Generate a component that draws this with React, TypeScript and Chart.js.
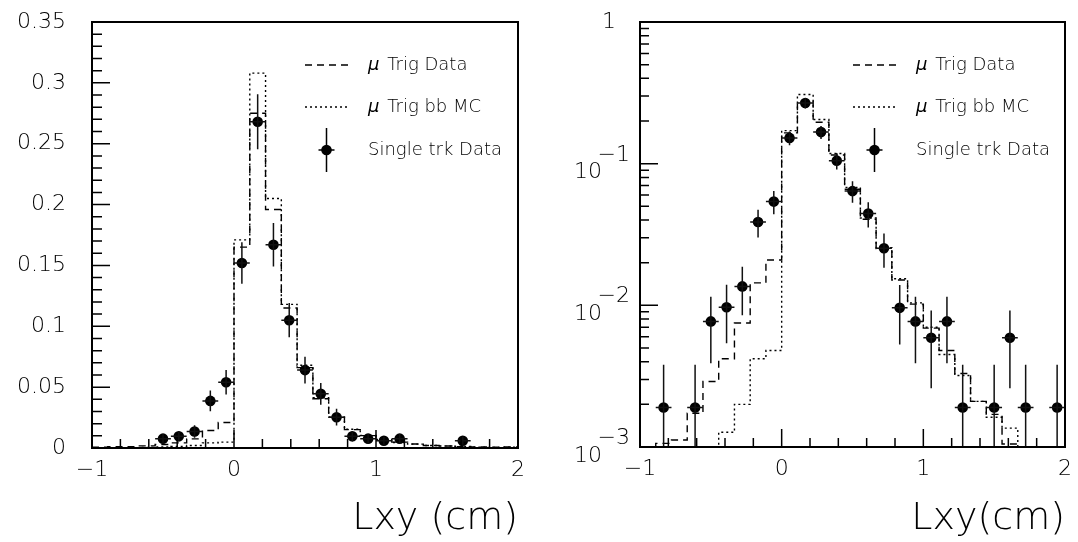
import React, { useEffect, useRef } from 'react';
import { Chart, registerables } from 'chart.js';

Chart.register(...registerables);

// ---------- data (27 bins of 1/9 cm from -1 to 2 cm) ----------
const BIN_LOW = -1;
const BIN_COUNT = 27;
const BIN_WIDTH = 3 / 27;

// mu Trig Data (dashed histogram), normalised contents
const muTrigData = [
  0.0007, 0.00106, 0.00112, 0.00173, 0.0029, 0.0042, 0.0075, 0.0144, 0.0209,
  0.165, 0.275, 0.196, 0.115, 0.066, 0.0405, 0.0252, 0.0151, 0.0102,
  0.0069, 0.0048, 0.0033, 0.0021, 0.0017, 0.00105, 0.0008, 0.0006, 0.0008,
];

// mu Trig bb MC (dotted histogram)
const muTrigMC = [
  0.0002, 0.0003, 0.0003, 0.0005, 0.0008, 0.00127, 0.002, 0.0042, 0.0048,
  0.171, 0.308, 0.205, 0.118, 0.068, 0.0413, 0.0255, 0.0154, 0.0104,
  0.007, 0.0045, 0.0032, 0.0021, 0.00162, 0.00136, 0.0007, 0.0005, 0.0006,
];

// Single trk Data points (log panel shows all, linear panel omits the single-entry bins)
const singleTrkLog = [
  null, 0.0019, null, 0.0019, 0.0077, 0.0097, 0.0136, 0.0387, 0.054,
  0.152, 0.268, 0.167, 0.105, 0.064, 0.0445, 0.0253, 0.0096, 0.0077,
  0.0059, 0.0077, 0.0019, null, 0.0019, 0.0059, 0.0019, null, 0.0019,
];
const singleTrkLin = [
  null, null, null, null, 0.0077, 0.0097, 0.0136, 0.0387, 0.054,
  0.152, 0.268, 0.167, 0.105, 0.064, 0.0445, 0.0253, 0.0096, 0.0077,
  0.0059, 0.0077, null, null, null, 0.0059, null, null, null,
];
const singleTrkErr = [
  0, 0.0019, 0, 0.0019, 0.0038, 0.0043, 0.0051, 0.0086, 0.0101,
  0.017, 0.0226, 0.0178, 0.0141, 0.011, 0.009, 0.0069, 0.0043, 0.0038,
  0.0033, 0.0038, 0.0019, 0, 0.0019, 0.0033, 0.0019, 0, 0.0019,
];

// axis ticks / labels
const xTickValues = [-1, 0, 1, 2];
const xTickLabels = ['\u22121', '0', '1', '2'];
const xMinorTicks = [-0.8, -0.6, -0.4, -0.2, 0.2, 0.4, 0.6, 0.8, 1.2, 1.4, 1.6, 1.8];
const yLinTickValues = [0, 0.05, 0.1, 0.15, 0.2, 0.25, 0.3, 0.35];
const yLinTickLabels = ['0', '0.05', '0.1', '0.15', '0.2', '0.25', '0.3', '0.35'];
const yLogTickValues = [0.001, 0.01, 0.1, 1];
const yLogTickLabels: (string | string[])[] = [
  ['\u22123', '10    '],
  ['\u22122', '10    '],
  ['\u22121', '10    '],
  '1  ',
];
const legendLabels = ['Trig Data', 'Trig bb MC', 'Single trk Data'];

const FONT = "'DejaVu Sans'";
const FW = 200;
const W = 539;
const H = 542;

type Kind = 'lin' | 'log';

function histPoints(values: number[]) {
  const pts = values.map((v, i) => ({ x: BIN_LOW + i * BIN_WIDTH, y: v }));
  pts.push({ x: BIN_LOW + BIN_COUNT * BIN_WIDTH, y: values[values.length - 1] });
  return pts;
}

function trkPoints(values: (number | null)[]) {
  const pts: { x: number; y: number; e: number }[] = [];
  values.forEach((v, i) => {
    if (v !== null) pts.push({ x: BIN_LOW + (i + 0.5) * BIN_WIDTH, y: v, e: singleTrkErr[i] });
  });
  return pts;
}

function decorPlugin(kind: Kind) {
  return {
    id: 'decor' + kind,
    afterDatasetsDraw(chart: any) {
      const { ctx, chartArea: a, scales } = chart;
      const xs = scales.x;
      const ys = scales.y;
      ctx.save();
      // error bars
      const pts = chart.data.datasets[2].data as any[];
      ctx.strokeStyle = '#111';
      ctx.lineWidth = 1.5;
      ctx.beginPath();
      ctx.rect(a.left, a.top, a.right - a.left, a.bottom - a.top);
      ctx.clip();
      pts.forEach((p) => {
        const cx = xs.getPixelForValue(p.x);
        const cy = ys.getPixelForValue(p.y);
        const top = ys.getPixelForValue(p.y + p.e);
        const lowVal = p.y - p.e;
        const bot = lowVal > 0 ? ys.getPixelForValue(lowVal) : a.bottom;
        ctx.beginPath();
        ctx.moveTo(cx, top);
        ctx.lineTo(cx, Math.min(bot, a.bottom));
        ctx.moveTo(xs.getPixelForValue(p.x - BIN_WIDTH / 2), cy);
        ctx.lineTo(xs.getPixelForValue(p.x + BIN_WIDTH / 2), cy);
        ctx.stroke();
      });
      ctx.restore();

      ctx.save();
      // frame
      ctx.strokeStyle = '#000';
      ctx.lineWidth = 2;
      ctx.strokeRect(a.left, a.top, a.right - a.left, a.bottom - a.top);
      // x ticks
      ctx.lineWidth = 1.5;
      ctx.beginPath();
      xTickValues.forEach((v) => {
        const px = xs.getPixelForValue(v);
        ctx.moveTo(px, a.bottom);
        ctx.lineTo(px, a.bottom - 18);
      });
      xMinorTicks.forEach((v) => {
        const px = xs.getPixelForValue(v);
        ctx.moveTo(px, a.bottom);
        ctx.lineTo(px, a.bottom - 9);
      });
      // y ticks
      if (kind === 'lin') {
        for (let k = 1; k < 35; k++) {
          const py = ys.getPixelForValue(k / 100);
          const len = k % 5 === 0 ? 18 : 10;
          ctx.moveTo(a.left, py);
          ctx.lineTo(a.left + len, py);
        }
      } else {
        yLogTickValues.forEach((dec) => {
          for (let m = 1; m <= 9; m++) {
            const v = dec * m;
            if (v > 1.0001) continue;
            const py = ys.getPixelForValue(v);
            const len = m === 1 ? 18 : 9;
            ctx.moveTo(a.left, py);
            ctx.lineTo(a.left + len, py);
          }
        });
      }
      ctx.stroke();

      // legend
      const sx0 = a.left + 213;
      const sx1 = a.left + 256;
      const tx = a.left + 276;
      const rows = [a.top + 43, a.top + 85, a.top + 128];
      ctx.lineWidth = 1.3;
      ctx.setLineDash([7, 5]);
      ctx.beginPath();
      ctx.moveTo(sx0, rows[0]);
      ctx.lineTo(sx1, rows[0]);
      ctx.stroke();
      ctx.setLineDash([2, 3]);
      ctx.beginPath();
      ctx.moveTo(sx0, rows[1]);
      ctx.lineTo(sx1, rows[1]);
      ctx.stroke();
      ctx.setLineDash([]);
      const mx = (sx0 + sx1) / 2;
      ctx.lineWidth = 1.5;
      ctx.beginPath();
      ctx.moveTo(mx, rows[2] - 22);
      ctx.lineTo(mx, rows[2] + 22);
      ctx.moveTo(mx - 8, rows[2]);
      ctx.lineTo(mx + 8, rows[2]);
      ctx.stroke();
      ctx.fillStyle = '#000';
      ctx.beginPath();
      ctx.arc(mx, rows[2], 5.3, 0, Math.PI * 2);
      ctx.fill();

      ctx.textBaseline = 'middle';
      ctx.textAlign = 'left';
      const fsz = 18;
      for (let r = 0; r < 3; r++) {
        let x = tx;
        if (r < 2) {
          ctx.font = `italic ${FW} ${fsz}px ${FONT}`;
          ctx.fillText('\u03bc', x, rows[r]);
          x += ctx.measureText('\u03bc ').width + 2;
        }
        ctx.font = `${FW} ${fsz}px ${FONT}`;
        ctx.fillText(legendLabels[r], x, rows[r]);
      }
      ctx.restore();
    },
  };
}

function buildConfig(kind: Kind): any {
  const isLog = kind === 'log';
  const tickFont = { family: FONT, size: 22, weight: FW as any };
  return {
    type: 'line',
    data: {
      datasets: [
        {
          label: '\u03bc Trig Data',
          data: histPoints(muTrigData),
          borderColor: '#000',
          borderWidth: 1.4,
          borderDash: [7, 5],
          stepped: 'before',
          pointRadius: 0,
          fill: false,
        },
        {
          label: '\u03bc Trig bb MC',
          data: histPoints(muTrigMC),
          borderColor: '#000',
          borderWidth: 1.4,
          borderDash: [2, 3],
          stepped: 'before',
          pointRadius: 0,
          fill: false,
        },
        {
          type: 'scatter',
          label: 'Single trk Data',
          data: trkPoints(isLog ? singleTrkLog : singleTrkLin),
          pointRadius: 5.3,
          pointBackgroundColor: '#000',
          pointBorderWidth: 0,
          showLine: false,
        },
      ],
    },
    options: {
      responsive: false,
      animation: false,
      devicePixelRatio: 1,
      layout: {
        padding: isLog
          ? { left: 0, top: 22, right: 13, bottom: 0 }
          : { left: 0, top: 22, right: 21, bottom: 0 },
      },
      plugins: { legend: { display: false }, tooltip: { enabled: false } },
      scales: {
        x: {
          type: 'linear',
          min: -1,
          max: 2,
          afterBuildTicks: (s: any) => {
            s.ticks = xTickValues.map((v) => ({ value: v }));
          },
          ticks: {
            autoSkip: false,
            maxRotation: 0,
            padding: 1,
            color: '#000',
            font: tickFont,
            callback: (_v: any, i: number) => xTickLabels[i],
          },
          grid: { display: false },
          border: { display: false },
          title: {
            display: true,
            text: isLog ? 'Lxy(cm)' : 'Lxy (cm)',
            align: 'end',
            color: '#000',
            font: { family: FONT, size: 38, weight: FW as any },
            padding: { top: 0, bottom: 0 },
          },
          afterFit: (s: any) => {
            s.height = isLog ? 95 : 94;
            s.paddingLeft = 0;
            s.paddingRight = 0;
          },
        },
        y: isLog
          ? {
              type: 'logarithmic',
              min: 0.001,
              max: 1,
              afterBuildTicks: (s: any) => {
                s.ticks = yLogTickValues.map((v) => ({ value: v }));
              },
              ticks: {
                autoSkip: false,
                padding: 2,
                color: '#000',
                font: { ...tickFont, lineHeight: 0.8 },
                callback: (_v: any, i: number) => yLogTickLabels[i],
              },
              grid: { display: false },
              border: { display: false },
              afterFit: (s: any) => {
                s.width = 101;
                s.paddingTop = 0;
                s.paddingBottom = 0;
              },
            }
          : {
              type: 'linear',
              min: 0,
              max: 0.35,
              afterBuildTicks: (s: any) => {
                s.ticks = yLinTickValues.map((v) => ({ value: v }));
              },
              ticks: {
                autoSkip: false,
                padding: 18,
                color: '#000',
                font: tickFont,
                callback: (_v: any, i: number) => yLinTickLabels[i],
              },
              grid: { display: false },
              border: { display: false },
              afterFit: (s: any) => {
                s.width = 92;
                s.paddingTop = 0;
                s.paddingBottom = 0;
              },
            },
      },
    },
    plugins: [decorPlugin(kind)],
  };
}

function Panel({ kind, left }: { kind: Kind; left: number }) {
  const ref = useRef<HTMLCanvasElement>(null);
  useEffect(() => {
    if (!ref.current) return;
    const chart = new Chart(ref.current, buildConfig(kind));
    return () => chart.destroy();
  }, [kind]);
  return (
    <canvas
      ref={ref}
      width={W}
      height={H}
      style={{ position: 'absolute', left, top: 0, width: W, height: H }}
    />
  );
}

export default function App() {
  return (
    <div style={{ position: 'absolute', left: 0, top: 0, width: 1078, height: 542, background: '#fff' }}>
      <Panel kind="lin" left={0} />
      <Panel kind="log" left={539} />
    </div>
  );
}
